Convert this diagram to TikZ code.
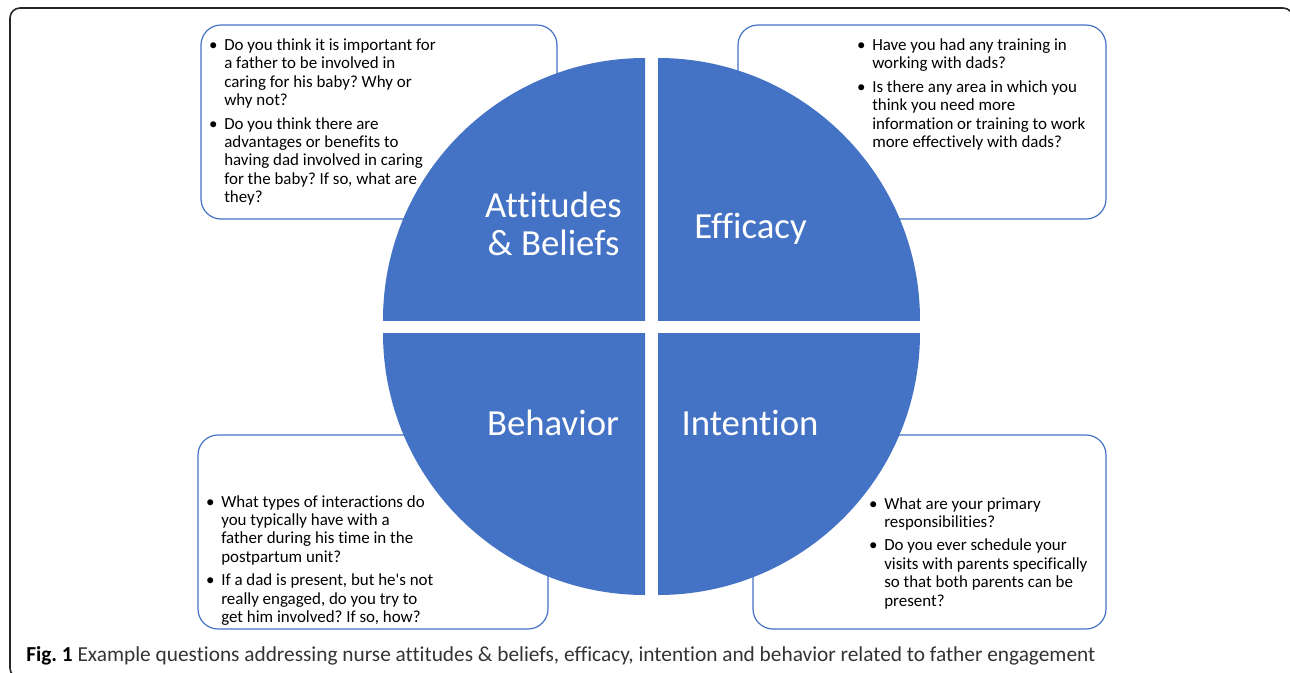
\documentclass[tikz,border=0pt]{standalone}
\usepackage{fontspec}
\setmainfont{Carlito}[Ligatures={NoCommon,TeXOff}]
\definecolor{qblue}{HTML}{4472C4}
\definecolor{capgray}{HTML}{333333}
\newcommand\qbul{\llap{\textbullet\hspace{5pt}}}
\frenchspacing
\begin{document}
\begin{tikzpicture}[x=0.75pt,y=-0.75pt,
  frame/.style={draw=black!85, line width=1.2pt, rounded corners=7.5pt},
  qbox/.style={draw=qblue, line width=0.9pt, fill=white, rounded corners=15pt},
  quad/.style={fill=qblue},
  qlabel/.style={text=white, inner sep=0pt, anchor=base, font=\fontsize{27.6}{29}\selectfont},
  qtext/.style={anchor=base west, inner sep=0pt, font=\fontsize{12.7}{13.8}\selectfont},
  captext/.style={anchor=base west, inner sep=0pt, font=\fontsize{16}{19}\selectfont}]
\useasboundingbox (0,0) rectangle (1290,672);
\clip (0,0) rectangle (1290,672);
\draw[frame] (10,8) rectangle (1293,678);

% question boxes
\draw[qbox] (201,25) rectangle (557,219);
\draw[qbox] (738,25) rectangle (1106,219);
\draw[qbox] (198,435) rectangle (548,629);
\draw[qbox] (753,435) rectangle (1106,629);

% quadrants
\begin{scope}
\clip (380,50) rectangle (645,320);
\fill[quad] (645,320) circle[radius=262];
\end{scope}
\begin{scope}
\clip (658,50) rectangle (930,320);
\fill[quad] (658,320) circle[radius=262];
\end{scope}
\begin{scope}
\clip (380,333) rectangle (645,600);
\fill[quad] (645,333) circle[radius=262];
\end{scope}
\begin{scope}
\clip (658,333) rectangle (930,600);
\fill[quad] (658,333) circle[radius=262];
\end{scope}

% quadrant labels
\node[qlabel] (att) at (553.5,217.3) {\begin{tabular}[t]{@{}c@{}}Attitudes\\ \& Beliefs\end{tabular}};
\node[qlabel] (eff) at (750.5,238.3) {Efficacy};
\node[qlabel] (beh) at (553,435) {Behavior};
\node[qlabel] (int) at (750,435) {Intention};

% box texts
\node[qtext] (tltext) at (224,50.5) {\begin{tabular}[t]{@{}l@{}}
\qbul Do you think it is important for\\
a father to be involved in\\
caring for his baby? Why or\\
why not?\\[3.75pt]
\qbul Do you think there are\\
advantages or benefits to\\
having dad involved in caring\\
for the baby? If so, what are\\
they?
\end{tabular}};
\node[qtext] (trtext) at (872,50.5) {\begin{tabular}[t]{@{}l@{}}
\qbul Have you had any training in\\
working with dads?\\[3.75pt]
\qbul Is there any area in which you\\
think you need more\\
information or training to work\\
more effectively with dads?
\end{tabular}};
\node[qtext] (bltext) at (221,507) {\begin{tabular}[t]{@{}l@{}}
\qbul What types of interactions do\\
you typically have with a\\
father during his time in the\\
postpartum unit?\\[3.75pt]
\qbul If a dad is present, but he's not\\
really engaged, do you try to\\
get him involved? If so, how?
\end{tabular}};
\node[qtext] (brtext) at (884,509) {\begin{tabular}[t]{@{}l@{}}
\qbul What are your primary\\
responsibilities?\\[3.75pt]
\qbul Do you ever schedule your\\
visits with parents specifically\\
so that both parents can be\\
present?
\end{tabular}};

% caption
\node[captext] (cap) at (26,661) {\textbf{Fig. 1} \textcolor{capgray}{Example questions addressing nurse attitudes \& beliefs, efficacy, intention and behavior related to father engagement}};
\end{tikzpicture}
\end{document}
